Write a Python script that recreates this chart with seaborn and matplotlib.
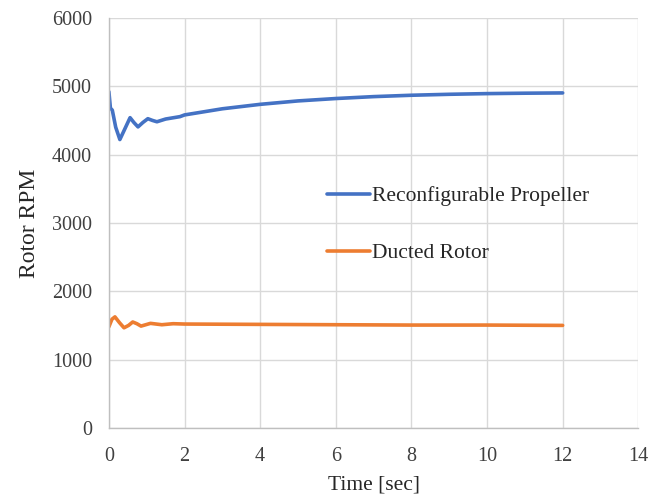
import pandas as pd
import seaborn as sns
import matplotlib.pyplot as plt

# Valores
t_prop = [0.0, 0.04, 0.09, 0.18, 0.29, 0.4, 0.56, 0.66, 0.77, 0.9, 1.03, 1.15, 1.27, 1.5,
          1.88, 2.0, 2.5, 3.0, 4.0, 5.0, 6.0, 7.0, 8.0, 9.0, 10.0, 11.0, 12.0]
rpm_prop = [4920, 4680, 4650, 4400, 4220, 4350, 4540, 4470, 4405, 4470, 4525, 4500, 4480,
            4520, 4555, 4580, 4625, 4670, 4735, 4785, 4820, 4848, 4868, 4882, 4892, 4898,
            4902]

t_duct = [0.0, 0.08, 0.16, 0.28, 0.4, 0.52, 0.63, 0.74, 0.85, 1.1, 1.4, 1.7, 2.0, 4.0,
          6.0, 8.0, 10.0, 12.0]
rpm_duct = [1480, 1590, 1625, 1540, 1465, 1500, 1550, 1525, 1490, 1530, 1510, 1525, 1520,
            1515, 1510, 1505, 1505, 1500]

series = ["Reconfigurable Propeller", "Ducted Rotor"]
cores = ["#4472C4", "#ED7D31"]

df = pd.concat([
    pd.DataFrame({"t": t_prop, "rpm": rpm_prop, "serie": series[0]}),
    pd.DataFrame({"t": t_duct, "rpm": rpm_duct, "serie": series[1]}),
])

sns.set_style("whitegrid")
plt.rcParams["font.family"] = ["Liberation Serif", "DejaVu Serif"]

fig = plt.figure(figsize=(6.56, 4.97), dpi=100)
ax = fig.add_axes([0.166, 0.139, 0.807, 0.825])

sns.lineplot(data=df, x="t", y="rpm", hue="serie", palette=cores, linewidth=2.6,
             sort=False, estimator=None, ax=ax)

ax.set_xlim(0, 14)
ax.set_ylim(0, 6000)
ax.set_xticks(range(0, 15, 2))
ax.set_yticks(range(0, 6001, 1000))
ax.grid(True, color="#d9d9d9", linewidth=1)
ax.tick_params(axis="both", length=0, labelsize=14.5, colors="#404040")
ax.tick_params(axis="y", pad=12)
ax.tick_params(axis="x", pad=13.5)
for lado in ["top", "right"]:
    ax.spines[lado].set_visible(False)
for lado in ["left", "bottom"]:
    ax.spines[lado].set_color("#bfbfbf")
    ax.spines[lado].set_linewidth(1)

ax.set_xlabel("Time [sec]", fontsize=15.5, labelpad=7, color="#262626")
ax.set_ylabel("Rotor RPM", fontsize=17, labelpad=9, color="#262626")

ax.legend(loc="upper left", bbox_to_anchor=(0.412, 0.59), frameon=False, fontsize=15.5,
          labelspacing=1.72, handlelength=2.0, handletextpad=0.1, borderpad=0,
          borderaxespad=0, title=None)

plt.savefig("out.png", dpi=100)
